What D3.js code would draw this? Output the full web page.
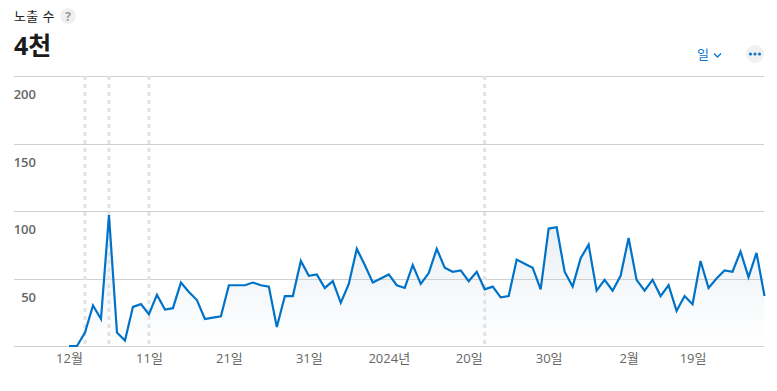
<!DOCTYPE html>
<html lang="ko">
<head>
<meta charset="utf-8">
<title>노출 수</title>
<script src="https://d3js.org/d3.v7.min.js"></script>
<style>
  html, body { margin: 0; padding: 0; background: #fff; overflow: hidden; }
  text { font-family: "Open Sans", "Noto Sans CJK KR", sans-serif; }
</style>
</head>
<body>
<div id="chart"></div>
<script>
var impressions = [0, 0, 10, 30, 20, 97, 10, 4, 29, 31,
  23.5, 38, 27, 28, 47, 40, 34, 20, 21, 22,
  45, 45, 45, 47, 45, 44, 14, 37, 37, 63,
  52, 53, 43, 48, 32, 46, 72, 60, 47, 50,
  53, 45, 43, 60, 46, 54, 72, 58, 55, 56,
  48, 55, 42, 44, 36, 37, 64, 61, 58, 42,
  87, 88, 55, 44, 65, 75, 41, 49, 41, 52,
  80, 49, 41, 49, 37, 45, 26, 37, 31, 63,
  43, 50, 56, 55, 70, 51, 69, 37];
var tickIndex = [0, 10, 20, 30, 40, 50, 60, 70, 78];
var tickLabels = ["12월", "11일", "21일", "31일", "2024년", "20일", "30일", "2월", "19일"];
var yTicks = [50, 100, 150, 200];
var markerIndex = [2, 5, 10, 52];

var width = 777, height = 391;
var x = d3.scaleLinear().domain([0, impressions.length - 1]).range([69, 764.5]);
var y = d3.scaleLinear().domain([0, 200]).range([346, 76]);

var svg = d3.select("#chart").append("svg")
  .attr("width", width)
  .attr("height", height)
  .style("display", "block");

// area gradient
var grad = svg.append("defs").append("linearGradient")
  .attr("id", "fade").attr("gradientUnits", "userSpaceOnUse")
  .attr("x1", 0).attr("x2", 0).attr("y1", y(97)).attr("y2", y(0));
grad.append("stop").attr("offset", "0%").attr("stop-color", "#e8eef4");
grad.append("stop").attr("offset", "100%").attr("stop-color", "#ffffff");

// header
svg.append("text").attr("x", 14).attr("y", 21).attr("font-size", 13).attr("letter-spacing", 0.4).attr("fill", "#222").text("노출 수");
svg.append("circle").attr("cx", 68).attr("cy", 16).attr("r", 8).attr("fill", "#f0f0f0");
svg.append("text").attr("x", 68).attr("y", 20.5).attr("text-anchor", "middle").attr("font-size", 12)
  .attr("font-weight", 700).attr("fill", "#999").text("?");
svg.append("text").attr("x", 14).attr("y", 55).attr("font-size", 25).attr("font-weight", 700).attr("fill", "#1b1b1b").text("4천");

// period selector
svg.append("text").attr("x", 703).attr("y", 59).attr("text-anchor", "middle").attr("font-size", 13).attr("fill", "#0a78d0").text("일");
svg.append("path").attr("d", "M714 53.5l3.5 3.5 3.5-3.5").attr("fill", "none").attr("stroke", "#0a78d0").attr("stroke-width", 1.3);
svg.append("circle").attr("cx", 755).attr("cy", 54).attr("r", 9).attr("fill", "#f0f0f0");
svg.selectAll(".dot").data([-4.5, 0, 4.5]).enter().append("circle")
  .attr("cx", function (d) { return 755 + d; }).attr("cy", 54).attr("r", 1.6).attr("fill", "#0a78d0");

var area = d3.area().x(function (d, i) { return x(i); }).y0(y(0)).y1(function (d) { return y(d); });
var line = d3.line().x(function (d, i) { return x(i); }).y(function (d) { return y(d); });

svg.append("path").datum(impressions).attr("d", area).attr("fill", "url(#fade)");

// y grid and labels
var yAxis = d3.axisLeft(y).tickValues([0].concat(yTicks)).tickSize(-750).tickFormat("");
var yg = svg.append("g").attr("transform", "translate(14,0)").call(yAxis);
yg.select(".domain").remove();
yg.selectAll("line").attr("stroke", "#d0d0d0").attr("stroke-width", 1).attr("shape-rendering", "crispEdges");

svg.selectAll(".ylab").data(yTicks).enter().append("text")
  .attr("x", 36).attr("y", function (d) { return y(d) + 23; })
  .attr("text-anchor", "end").attr("font-size", 13).attr("font-weight", 600).attr("fill", "#666")
  .text(function (d) { return d; });

// markers
svg.selectAll(".marker").data(markerIndex).enter().append("line")
  .attr("x1", function (d) { return x(d); }).attr("x2", function (d) { return x(d); })
  .attr("y1", y(200)).attr("y2", y(0))
  .attr("stroke", "#e2e2e2").attr("stroke-width", 3).attr("stroke-dasharray", "4 4");

svg.append("path").datum(impressions).attr("d", line).attr("fill", "none")
  .attr("stroke", "#0073c8").attr("stroke-width", 2.2).attr("stroke-linejoin", "miter");

// x labels
svg.selectAll(".xlab").data(tickIndex).enter().append("text")
  .attr("x", function (d) { return x(d) + 0.5; }).attr("y", 363)
  .attr("text-anchor", "middle").attr("font-size", 13).attr("fill", "#666")
  .text(function (d, i) { return tickLabels[i]; });
</script>
</body>
</html>
